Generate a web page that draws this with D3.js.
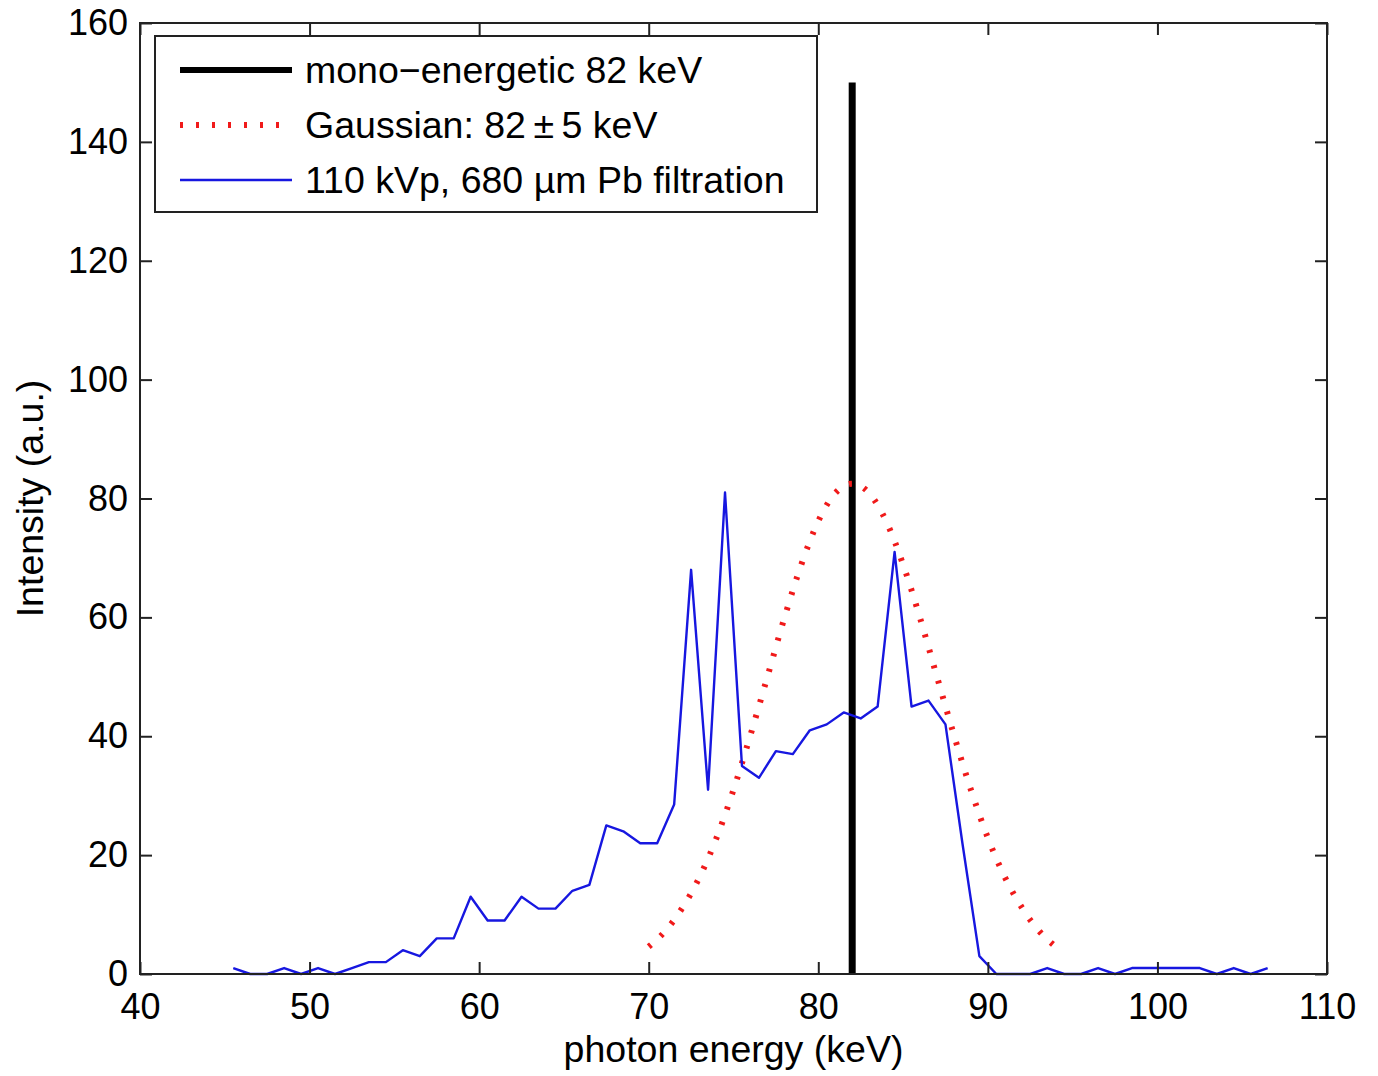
<!DOCTYPE html>
<html>
<head>
<meta charset="utf-8">
<script src="https://cdn.jsdelivr.net/npm/d3@7"></script>
<style>
  body { margin: 0; background: #fff; }
  svg text { font-family: "Liberation Sans", Arial, Helvetica, sans-serif; fill: #000; }
</style>
</head>
<body>
<div id="chart"></div>
<script>
'use strict';

// mono-energetic spike
let monoEnergy = [82, 82],
    monoValues = [0, 150];

// gaussian 82 +/- 5 keV, read at 1 keV steps
let gaussEnergy = [70, 71, 72, 73, 74, 75, 76, 77, 78, 79, 80, 81, 82,
                   83, 84, 85, 86, 87, 88, 89, 90, 91, 92, 93, 94],
    gaussValues = [4.6, 7.3, 11.2, 16.3, 22.9, 31.0, 40.2, 50.0, 59.9, 68.9, 76.2, 80.9, 82.5,
                   80.9, 76.2, 68.9, 59.9, 50.0, 40.2, 31.0, 22.9, 16.3, 11.2, 7.3, 4.6];

// 110 kVp spectrum, bin centres
let specEnergy = [45.5, 46.5, 47.5, 48.5, 49.5, 50.5, 51.5, 52.5, 53.5, 54.5,
                  55.5, 56.5, 57.5, 58.5, 59.5, 60.5, 61.5, 62.5, 63.5, 64.5,
                  65.5, 66.5, 67.5, 68.5, 69.5, 70.5, 71.5, 72.5, 73.5, 74.5,
                  75.5, 76.5, 77.5, 78.5, 79.5, 80.5, 81.5, 82.5, 83.5, 84.5,
                  85.5, 86.5, 87.5, 88.5, 89.5, 90.5, 91.5, 92.5, 93.5, 94.5,
                  95.5, 96.5, 97.5, 98.5, 99.5, 100.5, 101.5, 102.5, 103.5, 104.5,
                  105.5, 106.5],
    specValues = [1, 0, 0, 1, 0, 1, 0, 1, 2, 2,
                  4, 3, 6, 6, 13, 9, 9, 13, 11, 11,
                  14, 15, 25, 24, 22, 22, 28.5, 68, 31, 81,
                  35, 33, 37.5, 37, 41, 42, 44, 43, 45, 71,
                  45, 46, 42, 22, 3, 0, 0, 0, 1, 0,
                  0, 1, 0, 1, 1, 1, 1, 1, 0, 1,
                  0, 1];

let xTicks = [40, 50, 60, 70, 80, 90, 100, 110],
    yTicks = [0, 20, 40, 60, 80, 100, 120, 140, 160];

let legendLabels = ['mono\u2212energetic 82 keV', 'Gaussian: 82\u2009\u00b1\u20095 keV', '110 kVp, 680 \u00b5m Pb filtration'];

let width = 1378, height = 1076,
    margin = {top: 23, right: 51, bottom: 102, left: 140};

let svg = d3.select('#chart').append('svg')
    .attr('width', width)
    .attr('height', height);

let x = d3.scaleLinear().domain([40, 110]).range([margin.left, width - margin.right]),
    y = d3.scaleLinear().domain([0, 160]).range([height - margin.bottom, margin.top]);

let zip = (xs, ys) => xs.map((v, i) => [v, ys[i]]);

let line = d3.line()
    .x(d => x(d[0]))
    .y(d => y(d[1]));

// series: black spike, red dotted gaussian, blue spectrum on top
svg.append('path')
    .datum(zip(monoEnergy, monoValues))
    .attr('d', line)
    .attr('fill', 'none')
    .attr('stroke', '#000')
    .attr('stroke-width', 7);

svg.append('path')
    .datum(zip(gaussEnergy, gaussValues))
    .attr('d', line.curve(d3.curveMonotoneX))
    .attr('fill', 'none')
    .attr('stroke', '#f01a1a')
    .attr('stroke-width', 6)
    .style('stroke-dasharray', '3, 13');

line.curve(d3.curveLinear);

svg.append('path')
    .datum(zip(specEnergy, specValues))
    .attr('d', line)
    .attr('fill', 'none')
    .attr('stroke', '#1717e0')
    .attr('stroke-width', 2.4)
    .attr('stroke-linejoin', 'round');

// axes, matlab style: inward ticks, mirrored on top/right
let tickLen = 12;
let axisStyle = g => {
    g.select('.domain').remove();
    g.selectAll('line').attr('stroke', '#222').attr('stroke-width', 2);
    g.selectAll('text').attr('font-size', 36).attr('fill', '#000');
};

svg.append('g')
    .attr('transform', 'translate(0,' + y(0) + ')')
    .call(d3.axisBottom(x).tickValues(xTicks).tickSize(-tickLen).tickPadding(19).tickFormat(d3.format('d')))
    .call(axisStyle);

svg.append('g')
    .attr('transform', 'translate(0,' + y(160) + ')')
    .call(d3.axisTop(x).tickValues(xTicks).tickSize(-tickLen).tickFormat(''))
    .call(axisStyle);

svg.append('g')
    .attr('transform', 'translate(' + x(40) + ',0)')
    .call(d3.axisLeft(y).tickValues(yTicks).tickSize(-tickLen).tickPadding(12).tickFormat(d3.format('d')))
    .call(axisStyle);

svg.append('g')
    .attr('transform', 'translate(' + x(110) + ',0)')
    .call(d3.axisRight(y).tickValues(yTicks).tickSize(-tickLen).tickFormat(''))
    .call(axisStyle);

svg.append('rect')
    .attr('x', x(40))
    .attr('y', y(160))
    .attr('width', x(110) - x(40))
    .attr('height', y(0) - y(160))
    .attr('fill', 'none')
    .attr('stroke', '#222')
    .attr('stroke-width', 2);

// axis titles
svg.append('text')
    .attr('x', (x(40) + x(110)) / 2)
    .attr('y', 1062)
    .attr('text-anchor', 'middle')
    .attr('font-size', 37.5)
    .text('photon energy (keV)');

svg.append('text')
    .attr('transform', 'translate(43,' + ((y(0) + y(160)) / 2) + ')rotate(-90)')
    .attr('text-anchor', 'middle')
    .attr('font-size', 37.5)
    .text('Intensity (a.u.)');

// legend
let legend = svg.append('g');

legend.append('rect')
    .attr('x', 155)
    .attr('y', 36)
    .attr('width', 662)
    .attr('height', 176)
    .attr('fill', '#fff')
    .attr('stroke', '#222')
    .attr('stroke-width', 2);

let legendStyles = [
    {stroke: '#000', width: 6, dash: null},
    {stroke: '#f01a1a', width: 6, dash: '3, 13'},
    {stroke: '#1717e0', width: 2.4, dash: null}
];

legendLabels.forEach((label, i) => {
    let ly = 70 + i * 55;
    legend.append('line')
        .attr('x1', 180)
        .attr('x2', 292)
        .attr('y1', ly)
        .attr('y2', ly)
        .attr('stroke', legendStyles[i].stroke)
        .attr('stroke-width', legendStyles[i].width)
        .style('stroke-dasharray', legendStyles[i].dash);
    legend.append('text')
        .attr('x', 305)
        .attr('y', ly)
        .attr('dy', '0.35em')
        .attr('font-size', 37.5)
        .text(label);
});
</script>
</body>
</html>
